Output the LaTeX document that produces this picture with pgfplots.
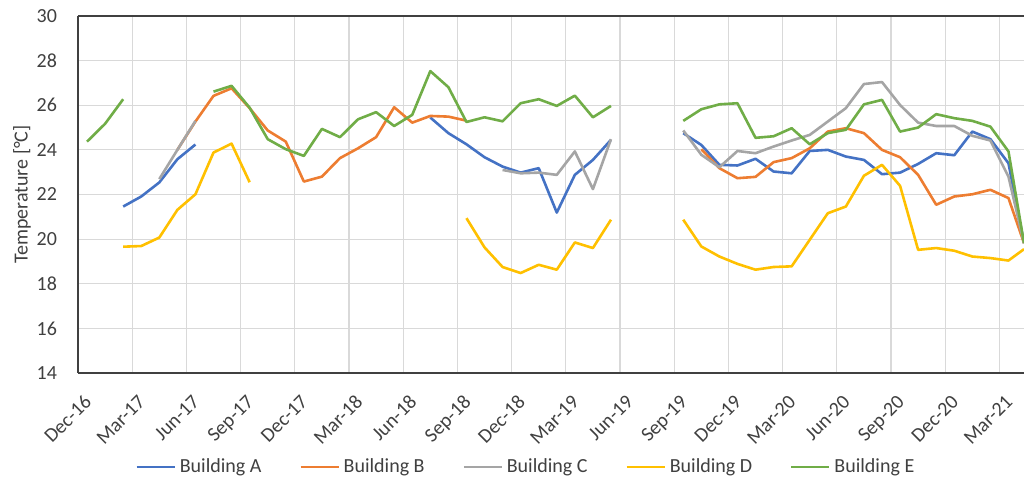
\documentclass[border=0pt]{standalone}
\usepackage{fontspec}
\setmainfont{Carlito}
\usepackage{pgfplots}
\usepackage{pgfplotstable}
\pgfplotsset{compat=1.18}
\definecolor{cA}{HTML}{4472C4}
\definecolor{cB}{HTML}{ED7D31}
\definecolor{cC}{HTML}{A5A5A5}
\definecolor{cD}{HTML}{FFC000}
\definecolor{cE}{HTML}{70AD47}
\definecolor{txt}{HTML}{404040}
\definecolor{gridc}{HTML}{D9D9D9}

\pgfplotstableread{
x y
2.5 21.46
3.5 21.91
4.5 22.54
5.5 23.58
6.5 24.24
7.5 nan
19.5 25.45
20.5 24.75
21.5 24.25
22.5 23.67
23.5 23.25
24.5 22.98
25.5 23.18
26.5 21.19
27.5 22.88
28.5 23.55
29.5 24.45
30.5 nan
33.5 24.75
34.5 24.22
35.5 23.33
36.5 23.30
37.5 23.60
38.5 23.03
39.5 22.95
40.5 23.95
41.5 24.00
42.5 23.70
43.5 23.55
44.5 22.91
45.5 22.98
46.5 23.37
47.5 23.85
48.5 23.76
49.5 24.82
50.5 24.48
51.5 23.40
52.36 19.82
}\dataA

\pgfplotstableread{
x y
5.5 24.00
6.5 25.27
7.5 26.42
8.5 26.76
9.5 25.87
10.5 24.87
11.5 24.37
12.5 22.58
13.5 22.80
14.5 23.63
15.5 24.07
16.5 24.57
17.5 25.91
18.5 25.22
19.5 25.52
20.5 25.49
21.5 25.31
22.5 nan
34.5 24.03
35.5 23.18
36.5 22.73
37.5 22.79
38.5 23.45
39.5 23.63
40.5 24.07
41.5 24.82
42.5 24.97
43.5 24.75
44.5 24.00
45.5 23.67
46.5 22.88
47.5 21.54
48.5 21.91
49.5 22.01
50.5 22.21
51.5 21.84
52.36 19.82
}\dataB

\pgfplotstableread{
x y
4.5 22.69
5.5 24.00
6.5 25.30
7.5 nan
23.5 23.10
24.5 22.95
25.5 22.98
26.5 22.88
27.5 23.93
28.5 22.24
29.5 24.48
30.5 nan
33.5 24.87
34.5 23.78
35.5 23.22
36.5 23.95
37.5 23.85
38.5 24.15
39.5 24.42
40.5 24.67
41.5 25.27
42.5 25.87
43.5 26.95
44.5 27.04
45.5 26.01
46.5 25.22
47.5 25.07
48.5 25.07
49.5 24.63
50.5 24.42
51.5 22.80
52.36 19.82
}\dataC

\pgfplotstableread{
x y
2.5 19.66
3.5 19.69
4.5 20.07
5.5 21.31
6.5 22.01
7.5 23.88
8.5 24.28
9.5 22.55
10.5 nan
21.5 20.94
22.5 19.63
23.5 18.75
24.5 18.48
25.5 18.85
26.5 18.63
27.5 19.85
28.5 19.60
29.5 20.87
30.5 nan
33.5 20.87
34.5 19.67
35.5 19.22
36.5 18.89
37.5 18.63
38.5 18.75
39.5 18.78
40.5 19.97
41.5 21.16
42.5 21.46
43.5 22.84
44.5 23.33
45.5 22.39
46.5 19.52
47.5 19.60
48.5 19.48
49.5 19.22
50.5 19.15
51.5 19.04
52.36 19.55
}\dataD

\pgfplotstableread{
x y
0.5 24.37
1.5 25.17
2.5 26.27
3.5 nan
7.5 26.61
8.5 26.87
9.5 25.89
10.5 24.48
11.5 24.03
12.5 23.73
13.5 24.94
14.5 24.57
15.5 25.37
16.5 25.69
17.5 25.07
18.5 25.57
19.5 27.53
20.5 26.81
21.5 25.25
22.5 25.46
23.5 25.28
24.5 26.09
25.5 26.27
26.5 25.97
27.5 26.43
28.5 25.46
29.5 25.97
30.5 nan
33.5 25.30
34.5 25.82
35.5 26.04
36.5 26.09
37.5 24.54
38.5 24.61
39.5 24.97
40.5 24.25
41.5 24.75
42.5 24.90
43.5 26.04
44.5 26.24
45.5 24.82
46.5 25.00
47.5 25.60
48.5 25.42
49.5 25.30
50.5 25.04
51.5 23.93
52.36 19.82
}\dataE

\begin{document}
\begin{tikzpicture}
\useasboundingbox (0,0) rectangle (512pt,240pt);
\begin{axis}[
  at={(39pt,53.5pt)}, anchor=south west,
  scale only axis, width=473pt, height=178.5pt,
  xmin=0, xmax=52.36, ymin=14, ymax=30,
  axis x line*=box, axis y line*=left,
  axis line style={draw=txt, line width=0.8pt},
  xtick={0,3,...,51},
  xticklabels={Dec-16,Mar-17,Jun-17,Sep-17,Dec-17,Mar-18,Jun-18,Sep-18,Dec-18,Mar-19,Jun-19,Sep-19,Dec-19,Mar-20,Jun-20,Sep-20,Dec-20,Mar-21},
  ytick={14,16,...,30},
  major tick length=0pt,
  grid=major,
  major grid style={draw=gridc, line width=0.55pt},
  /pgf/number format/assume math mode=true,
  yticklabel style={font=\fontsize{10}{12}\selectfont, text=txt, xshift=-7pt},
  xticklabel style={font=\fontsize{10}{12}\selectfont, text=txt, xshift=2.5pt, yshift=-5.5pt, rotate=45, anchor=north east},
  ylabel={Temperature [°C]},
  every axis y label/.style={at={(axis description cs:-0.0592,0.5)}, rotate=90, anchor=center, font=\fontsize{10}{12}\selectfont, text=txt},
  unbounded coords=jump,
  legend columns=5,
  legend style={at={(axis description cs:0.4746,-0.263)}, anchor=center, draw=none, fill=none,
    font=\fontsize{10}{12}\selectfont, text=txt,
    /tikz/every even column/.append style={column sep=17pt},
    /tikz/every odd column/.append style={column sep=0pt}},
  legend image code/.code={\draw[#1, line width=1.1pt] (0pt,0pt) -- (19pt,0pt);},
  every axis plot/.append style={line width=1.3pt, line join=round, no markers},
]
\addplot[cA] table {\dataA};
\addlegendentry{Building A}
\addplot[cB] table {\dataB};
\addlegendentry{Building B}
\addplot[cC] table {\dataC};
\addlegendentry{Building C}
\addplot[cD] table {\dataD};
\addlegendentry{Building D}
\addplot[cE] table {\dataE};
\addlegendentry{Building E}
\end{axis}
\end{tikzpicture}
\end{document}
